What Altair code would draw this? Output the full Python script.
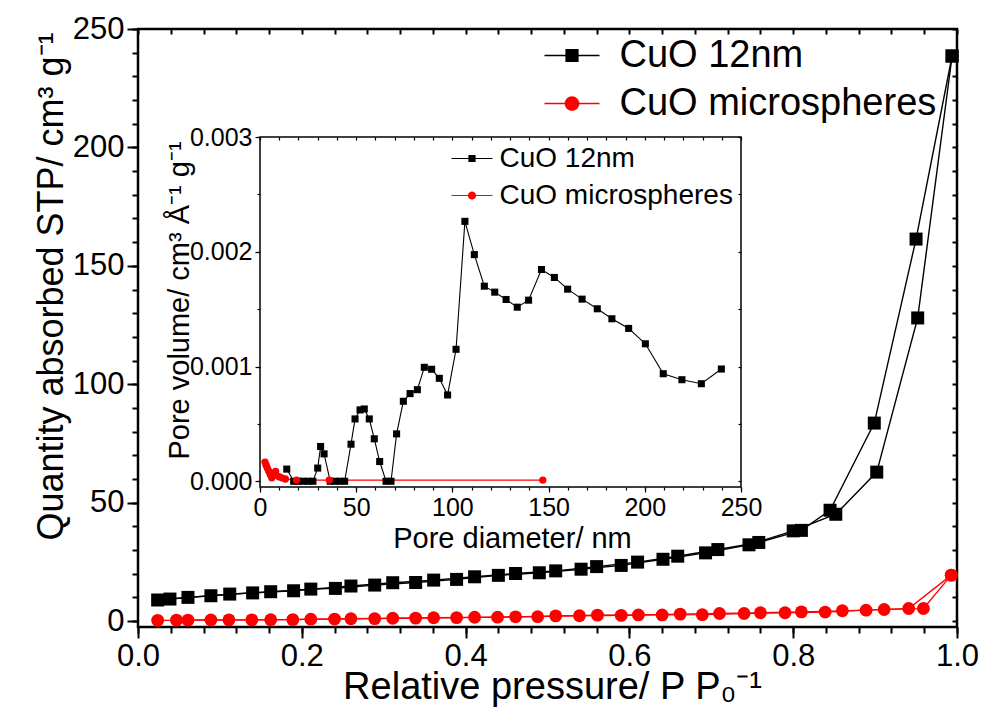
import altair as alt
import pandas as pd

SERIES = ["CuO 12nm", "CuO microspheres"]
COLORS = ["#000000", "#ff0000"]

# ---- main isotherm (relative pressure, quantity adsorbed) ----
ads12_p = [0.024, 0.061, 0.112, 0.162, 0.211, 0.241, 0.289, 0.339, 0.389, 0.440, 0.490,
           0.541, 0.590, 0.641, 0.693, 0.746, 0.800, 0.852, 0.902, 0.952, 0.994]
ads12_q = [8.9, 10.0, 11.4, 12.4, 13.5, 13.8, 15.2, 16.3, 17.6, 19.3, 20.4,
           21.9, 23.5, 26.1, 28.8, 32.2, 38.1, 45.1, 62.9, 128.0, 238.6]
des12_p = [0.994, 0.950, 0.899, 0.845, 0.810, 0.758, 0.708, 0.659, 0.610, 0.560,
           0.510, 0.461, 0.411, 0.361, 0.311, 0.260, 0.190, 0.140, 0.089, 0.039]
des12_q = [238.6, 161.3, 83.6, 46.8, 38.3, 33.2, 30.2, 27.4, 24.9, 23.0,
           21.2, 20.1, 18.7, 17.3, 16.2, 14.8, 12.8, 11.9, 10.7, 9.3]

adsM_p = [0.024, 0.061, 0.111, 0.162, 0.211, 0.260, 0.311, 0.361, 0.411, 0.461, 0.510,
          0.561, 0.611, 0.662, 0.710, 0.760, 0.810, 0.860, 0.911, 0.959, 0.993]
adsM_q = [0.3, 0.4, 0.5, 0.55, 0.8, 1.0, 1.2, 1.4, 1.6, 1.8, 2.2,
          2.5, 2.6, 2.95, 3.2, 3.5, 3.9, 4.35, 4.9, 5.3, 19.4]
desM_p = [0.993, 0.941, 0.889, 0.839, 0.790, 0.740, 0.689, 0.640, 0.590, 0.539,
          0.488, 0.439, 0.389, 0.339, 0.289, 0.240, 0.189, 0.139, 0.089, 0.047]
desM_q = [19.4, 5.3, 4.6, 3.8, 3.5, 3.2, 2.7, 2.6, 2.4, 2.25,
          1.85, 1.65, 1.45, 1.25, 1.05, 0.85, 0.6, 0.5, 0.45, 0.4]

# ---- inset: pore size distribution ----
psd12_d = [13.9, 17.5, 20.0, 22.5, 25.0, 27.5, 30.0, 31.5, 33.3, 36.5, 39.0, 41.5, 44.0,
           47.3, 49.4, 52.0, 54.2, 56.8, 59.4, 62.2, 65.5, 68.1, 71.0, 74.5, 78.0, 81.8,
           85.4, 89.2, 93.2, 97.5, 101.9, 106.5, 111.4, 116.6, 122.0, 127.9, 133.7, 139.6,
           146.3, 153.0, 159.9, 167.4, 175.3, 182.9, 191.6, 200.3, 209.6, 219.3, 229.4, 239.8]
psd12_v = [0.000106, 0, 0, 0, 0, 0, 0.000115, 0.000303, 0.000239, 0, 0, 0, 0,
           0.000323, 0.000543, 0.000622, 0.00063, 0.000543, 0.00037, 0.000172, 0, 0,
           0.000413, 0.000697, 0.000764, 0.000798, 0.000993, 0.000976, 0.000897, 0.000752,
           0.00115, 0.002265, 0.001975, 0.0017, 0.001648, 0.001584, 0.001517, 0.001578,
           0.001845, 0.001776, 0.001674, 0.001587, 0.001503, 0.001416, 0.001332, 0.001198,
           0.000937, 0.000885, 0.00085, 0.000978]
psdM_d = [2.6, 3.2, 3.8, 4.5, 5.3, 6.1, 7.0, 8.1, 9.9, 11.3, 13.2, 19.0, 36.0, 147.0]
psdM_v = [0.000167, 0.00014, 0.000115, 0.00009, 0.00006, 0.00003, 0.00005, 0.000085,
          0.00004, 0.00003, 0.00002, 0.00001, 0.00001, 0.00001]

# axis tick values
X_MAIN_MAJOR = [0.0, 0.2, 0.4, 0.6, 0.8, 1.0]
X_MAIN_MINOR = [round(0.04 * i, 2) for i in range(26)]
Y_MAIN_MAJOR = [0, 50, 100, 150, 200, 250]
Y_MAIN_MINOR = list(range(0, 251, 10))
X_IN_MAJOR = [0, 50, 100, 150, 200, 250]
X_IN_MINOR = list(range(0, 251, 10))
Y_IN_MAJOR = [0.0, 0.001, 0.002, 0.003]
Y_IN_MINOR = [0.0, 0.0005, 0.001, 0.0015, 0.002, 0.0025, 0.003]

X_MAIN_DOM = [0.0, 1.0]
Y_MAIN_DOM = [-2.5, 250]
X_IN_DOM = [0, 250]
Y_IN_DOM = [-0.00005, 0.003]


def rows(series, branch, xs, ys, xn, yn):
    return [{"series": series, "branch": series + "-" + branch, "idx": i, xn: a, yn: b}
            for i, (a, b) in enumerate(zip(xs, ys))]


main_df = pd.DataFrame(rows(SERIES[0], "ads", ads12_p, ads12_q, "p", "q")
                       + rows(SERIES[0], "des", des12_p, des12_q, "p", "q")
                       + rows(SERIES[1], "ads", adsM_p, adsM_q, "p", "q")
                       + rows(SERIES[1], "des", desM_p, desM_q, "p", "q"))
inset_df = pd.DataFrame(rows(SERIES[0], "psd", psd12_d, psd12_v, "d", "v")
                        + rows(SERIES[1], "psd", psdM_d, psdM_v, "d", "v"))
frame_df = pd.DataFrame({"x0": [X_IN_DOM[0]], "x1": [X_IN_DOM[1]],
                         "y0": [Y_IN_DOM[0]], "y1": [Y_IN_DOM[1]]})

FONT = "Liberation Sans"
W, H = 819, 598
PAD_L, PAD_T, PAD_R, PAD_B = 130, 21, 22, 90


def tick_axis(orient, values, size, offset=0, width=2.0):
    return alt.Axis(orient=orient, values=values, tickSize=size, tickWidth=width,
                    labels=False, domain=False, grid=False, title=None, offset=offset)


# ---------------- main chart ----------------
sx = alt.Scale(domain=X_MAIN_DOM, nice=False, zero=False)
sy = alt.Scale(domain=Y_MAIN_DOM, nice=False, zero=False)
scol = alt.Scale(domain=SERIES, range=COLORS)

SQ_MAIN = "M-1,-0.024H1V0.024H-1ZM-0.24,-0.24H0.24V0.24H-0.24Z"
CI_MAIN = "M-1,-0.024H1V0.024H-1ZM0.265,0A0.265,0.265,0,1,1,-0.265,0A0.265,0.265,0,1,1,0.265,0Z"

ax_x_major = alt.Axis(orient="bottom", values=X_MAIN_MAJOR, format=".1f", tickSize=11,
                      tickWidth=2, labelFontSize=31, labelPadding=3, labelFlush=False,
                      domain=False, grid=False,
                      title="Relative pressure/ P P\u2080\u207b\u00b9", titleFontSize=38,
                      titleX=414, titleY=71, titleBaseline="alphabetic", titleAlign="center",
                      titleAngle=0)
ax_y_major = alt.Axis(orient="left", values=Y_MAIN_MAJOR, format="d", tickSize=11,
                      tickWidth=2, labelFontSize=31, labelPadding=3, domain=False, grid=False,
                      title="Quantity absorbed STP/ cm\u00b3 g\u207b\u00b9", titleFontSize=36,
                      titleX=-76, titleY=257, titleBaseline="alphabetic", titleAlign="center",
                      titleAngle=-90)

base_main = alt.Chart(main_df)
lines12_main = base_main.transform_filter(alt.datum.series == SERIES[0]).mark_line(
    strokeWidth=1.4, color=COLORS[0]).encode(
    x=alt.X("p:Q", scale=sx, axis=ax_x_major),
    y=alt.Y("q:Q", scale=sy, axis=ax_y_major),
    detail="branch:N",
    order="idx:Q",
)
linesM_main = base_main.transform_filter(alt.datum.series == SERIES[1]).mark_line(
    strokeWidth=1.3, color=COLORS[1]).encode(
    x=alt.X("p:Q", scale=sx, axis=None),
    y=alt.Y("q:Q", scale=sy, axis=None),
    detail="branch:N",
    order="idx:Q",
)
sq_main = base_main.transform_filter(alt.datum.series == SERIES[0]).mark_square(
    size=169, color=COLORS[0], opacity=1).encode(
    x=alt.X("p:Q", scale=sx, axis=tick_axis("bottom", X_MAIN_MINOR, 6)),
    y=alt.Y("q:Q", scale=sy, axis=tick_axis("left", Y_MAIN_MINOR, 6)),
)
ci_main = base_main.transform_filter(alt.datum.series == SERIES[1]).mark_circle(
    size=165, color=COLORS[1], opacity=1).encode(
    x=alt.X("p:Q", scale=sx, axis=tick_axis("top", X_MAIN_MINOR, 5, offset=-5)),
    y=alt.Y("q:Q", scale=sy, axis=tick_axis("right", Y_MAIN_MINOR, 5, offset=-5)),
)
leg_main_def = alt.Legend(orient="none", legendX=406.5, legendY=-1, title=None,
                          labelFontSize=38, labelFont=FONT, labelColor="black",
                          symbolSize=3025, symbolStrokeWidth=0, symbolOpacity=1,
                          labelOffset=20, padding=0, rowPadding=1, labelLimit=1000)
leg_main = base_main.mark_point(filled=True, size=3025, opacity=0).encode(
    x=alt.X("p:Q", scale=sx, axis=None),
    y=alt.Y("q:Q", scale=sy, axis=None),
    color=alt.Color("series:N", scale=scol, legend=leg_main_def),
    shape=alt.Shape("series:N", scale=alt.Scale(domain=SERIES, range=[SQ_MAIN, CI_MAIN]),
                    legend=leg_main_def),
)
main = alt.layer(lines12_main, linesM_main, sq_main, ci_main, leg_main).resolve_axis(
    x="independent", y="independent")

# ---------------- inset ----------------
IX0, IX1 = 122, 603     # inset x range inside the main view
IY0, IY1 = 458, 108     # inset y range inside the main view
sxi = alt.Scale(domain=X_IN_DOM, range=[IX0, IX1], nice=False, zero=False)
syi = alt.Scale(domain=Y_IN_DOM, range=[IY0, IY1], nice=False, zero=False)
scoli = alt.Scale(domain=SERIES, range=COLORS)

SQ_IN = "M-1,-0.025H1V0.025H-1ZM-0.175,-0.175H0.175V0.175H-0.175Z"
CI_IN = "M-1,-0.025H1V0.025H-1ZM0.2,0A0.2,0.2,0,1,1,-0.2,0A0.2,0.2,0,1,1,0.2,0Z"

ax_xi_major = alt.Axis(orient="bottom", values=X_IN_MAJOR, format="d", tickSize=5,
                       tickWidth=1.2, labelFontSize=25, labelPadding=3, labelFlush=False,
                       domain=False, grid=False, offset=-(H - IY0),
                       title="Pore diameter/ nm", titleFontSize=29, titleX=374, titleY=60,
                       titleBaseline="alphabetic", titleAlign="center", titleAngle=0)
ax_yi_major = alt.Axis(orient="left", values=Y_IN_MAJOR, format=".3f", tickSize=5,
                       tickWidth=1.2, labelFontSize=25, labelPadding=3, domain=False,
                       grid=False, offset=-IX0,
                       title="Pore volume/ cm\u00b3 \u00c5\u207b\u00b9 g\u207b\u00b9",
                       titleFontSize=29, titleX=-72, titleY=271, titleBaseline="alphabetic",
                       titleAlign="center", titleAngle=-90)

base_in = alt.Chart(inset_df)
frame_in = alt.Chart(frame_df).mark_rect(fillOpacity=0, stroke="black", strokeWidth=1.5).encode(
    x=alt.X("x0:Q", scale=sxi, axis=None), x2="x1:Q",
    y=alt.Y("y0:Q", scale=syi, axis=None), y2="y1:Q",
)
lines12_in = base_in.transform_filter(alt.datum.series == SERIES[0]).mark_line(
    strokeWidth=1.1, color=COLORS[0]).encode(
    x=alt.X("d:Q", scale=sxi, axis=ax_xi_major),
    y=alt.Y("v:Q", scale=syi, axis=ax_yi_major),
    order="idx:Q",
)
linesM_in = base_in.transform_filter(alt.datum.series == SERIES[1]).mark_line(
    strokeWidth=1.1, color=COLORS[1]).encode(
    x=alt.X("d:Q", scale=sxi, axis=None),
    y=alt.Y("v:Q", scale=syi, axis=None),
    order="idx:Q",
)
sq_in = base_in.transform_filter(alt.datum.series == SERIES[0]).mark_square(
    size=50, color=COLORS[0], opacity=1).encode(
    x=alt.X("d:Q", scale=sxi, axis=tick_axis("bottom", X_IN_MINOR, 3, offset=-(H - IY0), width=1.2)),
    y=alt.Y("v:Q", scale=syi, axis=tick_axis("left", Y_IN_MINOR, 3, offset=-IX0, width=1.2)),
)
ci_in = base_in.transform_filter(alt.datum.series == SERIES[1]).mark_circle(
    size=54, color=COLORS[1], opacity=1).encode(
    x=alt.X("d:Q", scale=sxi, axis=tick_axis("top", X_IN_MINOR, 3, offset=-(IY1 + 3), width=1.2)),
    y=alt.Y("v:Q", scale=syi, axis=tick_axis("right", Y_IN_MINOR, 3, offset=-(W - IX1 + 3), width=1.2)),
)
leg_in_def = alt.Legend(orient="none", legendX=313.5, legendY=109, title=None,
                        labelFontSize=28, labelFont=FONT, labelColor="black",
                        symbolSize=1681, symbolStrokeWidth=0, symbolOpacity=1,
                        labelOffset=7, padding=0, rowPadding=2, labelLimit=1000)
leg_in = base_in.mark_point(filled=True, size=1681, opacity=0).encode(
    x=alt.X("d:Q", scale=sxi, axis=None),
    y=alt.Y("v:Q", scale=syi, axis=None),
    color=alt.Color("series:N", scale=scoli, legend=leg_in_def),
    shape=alt.Shape("series:N", scale=alt.Scale(domain=SERIES, range=[SQ_IN, CI_IN]),
                    legend=leg_in_def),
)
inset = alt.layer(frame_in, lines12_in, linesM_in, sq_in, ci_in, leg_in).resolve_axis(
    x="independent", y="independent")

chart = alt.layer(main, inset).resolve_scale(
    x="independent", y="independent", color="independent", shape="independent"
).properties(
    width=W, height=H,
    autosize=alt.AutoSizeParams(type="none"),
    padding={"left": PAD_L, "top": PAD_T, "right": PAD_R, "bottom": PAD_B},
).configure(font=FONT).configure_view(
    stroke="black", strokeWidth=2.5
).configure_axis(
    labelColor="black", tickColor="black", titleColor="black", titleFontWeight="normal",
    labelFont=FONT, titleFont=FONT
)

chart.save("out.html", embed_options={"renderer": "svg", "actions": False})
